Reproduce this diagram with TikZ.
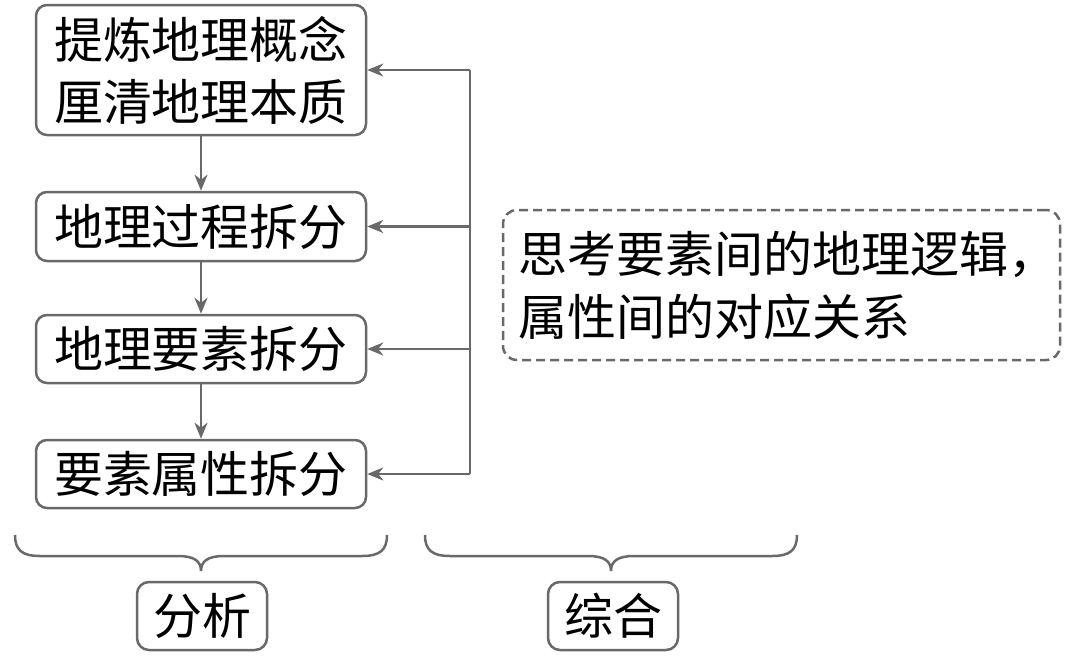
\documentclass[tikz,border=0pt]{standalone}
\usepackage{fontspec}
\newfontfamily\cjk{Noto Sans CJK SC}
\usetikzlibrary{arrows.meta}
\definecolor{lc}{RGB}{105,105,105}
\begin{document}
\begin{tikzpicture}[x=1pt,y=-1pt,
  stepbox/.style={draw=lc, line width=2.5pt, rounded corners=11pt, minimum width=330pt, inner sep=0pt, align=center, font=\cjk\fontsize{49}{62}\selectfont},
  labbox/.style={draw=lc, line width=2.5pt, rounded corners=12pt, minimum width=130pt, minimum height=68pt, inner sep=0pt, font=\cjk\fontsize{49}{62}\selectfont},
  conn/.style={draw=lc, line width=2.5pt},
  arr/.style={conn, -{Stealth[length=16pt,width=13pt,inset=5pt]}}]
\useasboundingbox (0,0) rectangle (1080,659);
\node[stepbox, minimum height=130pt] (b1) at (201,70) {提炼地理概念\\厘清地理本质};
\node[stepbox, minimum height=69pt] (b2) at (201,226.5) {地理过程拆分};
\node[stepbox, minimum height=68pt] (b3) at (201,349) {地理要素拆分};
\node[stepbox, minimum height=68pt] (b4) at (201,474) {要素属性拆分};
\draw[arr] (b1) -- (b2);
\draw[arr] (b2) -- (b3);
\draw[arr] (b3) -- (b4);
\coordinate (c1) at (470,70);
\coordinate (c2) at (470,226.5);
\coordinate (c3) at (470,349);
\coordinate (c4) at (470,474);
\draw[conn] (c1) -- (c4);
\draw[arr] (c1) -- (b1.east);
\draw[arr] (c2) -- (b2.east);
\draw[arr] (c3) -- (b3.east);
\draw[arr] (c4) -- (b4.east);
\node[draw=lc, line width=2.5pt, dashed, dash pattern=on 9pt off 5pt, rounded corners=14pt, minimum width=557pt, minimum height=150pt, inner sep=0pt, text width=527pt, align=left, font=\cjk\fontsize{49}{63}\selectfont] (d) at (781.5,285) {思考要素间的地理逻辑，\\属性间的对应关系};
\draw[conn] (15,535) .. controls (15,550) and (22,556) .. (40,556) -- (178,556) .. controls (194,556) and (201,561) .. (201,571) .. controls (201,561) and (208,556) .. (224,556) -- (362,556) .. controls (380,556) and (387,550) .. (387,535);
\draw[conn] (425,535) .. controls (425,550) and (432,556) .. (450,556) -- (588,556) .. controls (604,556) and (611,561) .. (611,571) .. controls (611,561) and (618,556) .. (634,556) -- (772,556) .. controls (790,556) and (797,550) .. (797,535);
\node[labbox] (l1) at (202,616) {分析};
\node[labbox] (l2) at (613,616) {综合};
\end{tikzpicture}
\end{document}
